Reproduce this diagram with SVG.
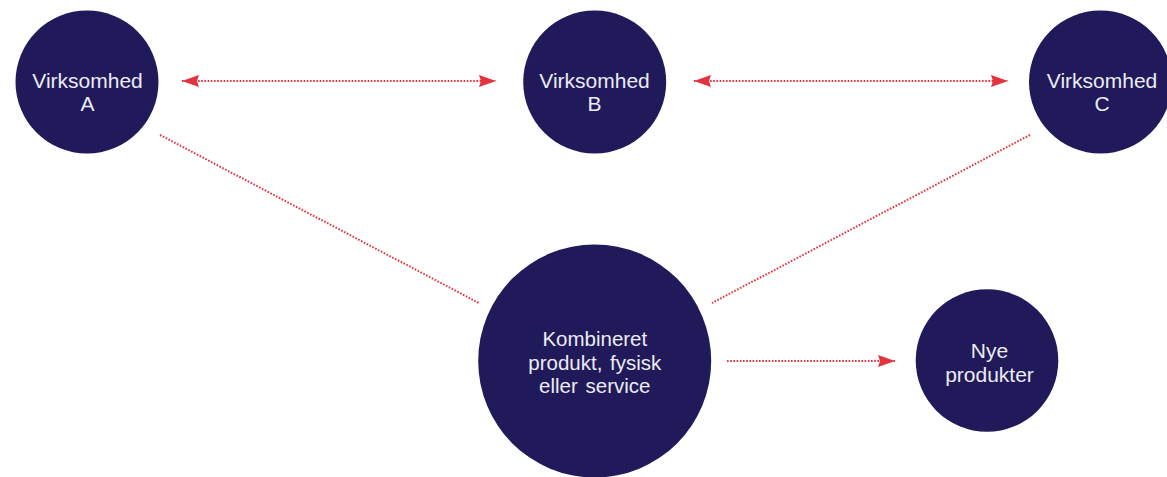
<svg xmlns="http://www.w3.org/2000/svg" width="1167" height="477" viewBox="0 0 1167 477">
  <defs>
    <style>
      .node { fill: #201a5a; }
      .label { fill: #ececf4; font-family: "Liberation Sans", Arial, sans-serif; font-size: 21px; text-anchor: middle; }
      .label-mid { font-size: 20.5px; word-spacing: 2px; }
      .link { fill: none; stroke: #e5323f; stroke-width: 2; stroke-dasharray: 1.6 1.6; }
    </style>
    <marker id="head" viewBox="0 0 17 12" refX="17" refY="6" markerWidth="17" markerHeight="12" markerUnits="userSpaceOnUse" orient="auto-start-reverse">
      <path d="M0,0 L17,6 L0,12 L2,6 Z" fill="#e5323f"/>
    </marker>
  </defs>

  <rect width="1167" height="477" fill="#ffffff"/>

  <!-- connectors -->
  <g id="connectors">
    <line class="link" x1="182" y1="81" x2="496" y2="81" marker-start="url(#head)" marker-end="url(#head)"/>
    <line class="link" x1="694" y1="81" x2="1008" y2="81" marker-start="url(#head)" marker-end="url(#head)"/>
    <line class="link" x1="160" y1="135" x2="479" y2="303"/>
    <line class="link" x1="1030" y1="135" x2="712" y2="303"/>
    <line class="link" x1="727" y1="361" x2="895" y2="361" marker-end="url(#head)"/>
  </g>

  <!-- nodes -->
  <g id="node-a">
    <circle class="node" cx="87" cy="82" r="71.5"/>
    <text class="label" x="87.5" y="87.5">Virksomhed</text>
    <text class="label" x="87.5" y="111">A</text>
  </g>
  <g id="node-b">
    <circle class="node" cx="594.7" cy="82" r="71.5"/>
    <text class="label" x="594.5" y="87.5">Virksomhed</text>
    <text class="label" x="594.5" y="111">B</text>
  </g>
  <g id="node-c">
    <circle class="node" cx="1100.5" cy="82" r="71.5"/>
    <text class="label" x="1102" y="87.5">Virksomhed</text>
    <text class="label" x="1102" y="111">C</text>
  </g>
  <g id="node-product">
    <circle class="node" cx="594.7" cy="361" r="116.5"/>
    <text class="label label-mid" x="594.8" y="346">Kombineret</text>
    <text class="label label-mid" x="594.8" y="369.5">produkt, fysisk</text>
    <text class="label label-mid" x="594.8" y="393">eller service</text>
  </g>
  <g id="node-new">
    <circle class="node" cx="987" cy="360.5" r="71.3"/>
    <text class="label" x="989.5" y="358.3">Nye</text>
    <text class="label" x="989.5" y="381.7">produkter</text>
  </g>
</svg>
